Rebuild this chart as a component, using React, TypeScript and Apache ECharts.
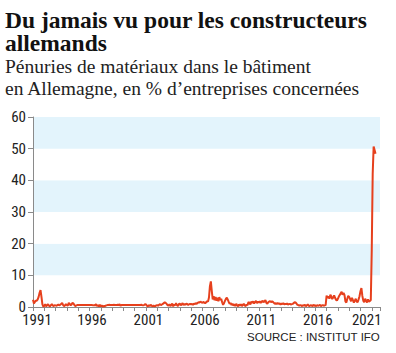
import { useEffect, useRef } from 'react';
import * as echarts from 'echarts';

const startYear = 1991;

// Monthly values (% of firms), Jan 1991 onwards
const shortage1991to2000 = [
  2.3, 1.1, 1.6, 2.0, 2.0, 2.4, 3.2, 4.5, 5.3, 3.2, 0.8, 0.1,
  0.4, 0.9, 0.2, 0.5, 0.9, 0.4, 0.2, 0.6, 0.9, 0.5, 0.3, 0.6,
  0.5, 0.4, 0.6, 0.8, 0.5, 0.7, 1.0, 1.3, 0.6, 0.3, 0.5, 0.9,
  0.6, 0.4, 1.3, 1.0, 0.5, 0.8, 1.3, 1.1, 0.6, 0.3, 0.5, 0.6,
  0.6, 0.6, 0.6, 0.6, 0.6, 0.6, 0.6, 0.6, 0.6, 0.6, 0.6, 0.6,
  0.6, 0.6, 0.6, 0.6, 0.5, 0.6, 0.5, 0.9, 0.3, 0.6, 0.2, 0.7,
  0.2, 0.5, 0.1, 0.3, 0.2, 0.4, 0.5, 0.6, 0.6, 0.7, 0.6, 0.6,
  0.6, 0.6, 0.7, 0.6, 0.6, 0.6, 0.7, 0.6, 0.9, 0.4, 0.6, 0.6,
  0.6, 0.6, 0.6, 0.6, 0.6, 0.6, 0.6, 0.6, 0.6, 0.6, 0.6, 0.6,
  0.6, 0.6, 0.6, 0.6, 0.6, 0.6, 0.6, 0.7, 0.6, 0.5, 0.6, 0.9,
];
const shortage2001to2010 = [
  0.8, 0.4, 0.2, 0.6, 0.3, 0.7, 0.4, 0.2, 0.5, 0.2, 0.3, 0.5,
  0.6, 0.4, 0.7, 0.9, 0.6, 0.8, 1.0, 1.2, 1.5, 1.3, 1.0, 0.6,
  0.4, 0.9, 0.3, 0.7, 1.1, 0.2, 0.8, 0.5, 1.2, 0.6, 0.3, 0.9,
  1.1, 0.5, 0.8, 1.2, 0.6, 1.0, 0.7, 1.1, 0.9, 0.6, 0.9, 1.0,
  0.8, 1.0, 0.7, 1.1, 0.9, 1.2, 1.0, 1.3, 1.5, 1.4, 1.7, 1.5,
  1.3, 1.6, 1.4, 1.2, 1.5, 1.8, 1.7, 3.0, 6.5, 8.1, 5.0, 2.4,
  3.4, 2.1, 3.2, 2.0, 2.9, 1.8, 3.1, 2.2, 2.6, 1.5, 0.7, 1.2,
  1.9, 2.6, 2.9, 2.3, 1.6, 1.0, 1.3, 0.6, 1.1, 0.4, 0.9, 0.3,
  1.0, 0.5, 0.2, 0.8, 0.4, 0.9, 0.3, 0.7, 1.0, 0.5, 0.3, 0.8,
  0.6, 1.6, 1.2, 0.8, 1.7, 1.3, 1.8, 1.1, 1.6, 1.9, 1.2, 1.7,
];
const shortage2011to2021 = [
  1.4, 1.8, 1.3, 1.6, 2.0, 1.5, 1.8, 2.2, 1.3, 1.0, 1.5, 1.7,
  1.9, 1.5, 1.8, 1.6, 1.3, 1.0, 1.2, 0.9, 1.3, 1.0, 1.1, 0.8,
  1.1, 0.9, 1.2, 0.8, 1.0, 0.9, 1.1, 0.8, 0.9, 1.0, 0.8, 0.9,
  1.0, 1.2, 1.5, 1.4, 1.1, 0.7, 0.6, 0.4, 0.6, 0.5, 0.3, 0.6,
  0.4, 0.7, 0.3, 0.5, 0.8, 0.4, 0.3, 0.6, 0.5, 0.3, 0.7, 0.4,
  0.5, 0.3, 0.6, 0.4, 0.5, 0.7, 0.3, 0.5, 0.6, 0.4, 0.5, 0.6,
  3.6, 2.8, 3.4, 2.6, 3.9, 3.3, 2.5, 3.0, 3.7, 2.9, 2.3, 2.0,
  2.6, 3.3, 3.8, 4.3, 4.8, 3.9, 4.4, 3.8, 1.8, 1.4, 2.6, 3.5,
  3.2, 2.5, 1.8, 2.9, 2.2, 1.4, 2.0, 2.6, 1.7, 1.5, 2.4, 3.4,
  5.0, 6.0, 3.5, 2.0, 1.5, 2.6, 2.0, 1.4, 2.4, 1.7, 1.9, 2.2,
  18.0, 42.0, 50.7, 49.6, 48.4,
];

const labelYears = [1991, 1996, 2001, 2006, 2011, 2016, 2021];
const yTickStep = 10;
const yMax = 60;

const titleLines = ['Du jamais vu pour les constructeurs', 'allemands'];
const subtitleLines = [
  'Pénuries de matériaux dans le bâtiment',
  'en Allemagne, en % d\u2019entreprises concernées',
];
const sourceText = 'SOURCE : INSTITUT IFO';

const narrow = '"Liberation Sans Narrow", "Arial Narrow", "Roboto Condensed", "Liberation Sans", sans-serif';
const sans = '"Liberation Sans", Arial, sans-serif';
const serif = '"Liberation Serif", "DejaVu Serif", serif';

export default function App() {
  const ref = useRef<HTMLDivElement>(null);
  useEffect(() => {
    if (!ref.current) return;
    const chart = echarts.init(ref.current, undefined, { renderer: 'svg' });
    const all = [...shortage1991to2000, ...shortage2001to2010, ...shortage2011to2021];
    const data = all.map((v, i) => [startYear + i / 12, v]);
    const labelStyle = { fontFamily: narrow, fontSize: 15, color: '#222' };
    chart.setOption({
      animation: false,
      backgroundColor: '#ffffff',
      title: [
        {
          text: titleLines.join('\n'),
          left: 0,
          top: 3,
          textStyle: { fontFamily: serif, fontWeight: 'bold', fontSize: 23.5, lineHeight: 23, color: '#111' },
        },
        {
          text: subtitleLines.join('\n'),
          left: 0,
          top: 50,
          textStyle: { fontFamily: serif, fontWeight: 'normal', fontSize: 19.5, lineHeight: 22, color: '#222' },
        },
      ],
      grid: { left: 33, right: 16, top: 117, bottom: 46 },
      xAxis: {
        type: 'value',
        min: 1991,
        max: 2021.73,
        interval: 1,
        axisLine: { show: true, lineStyle: { color: '#8a8a8a', width: 1 } },
        axisTick: { show: true, length: 4, lineStyle: { color: '#8a8a8a' } },
        splitLine: { show: false },
        axisLabel: {
          margin: 6,
          ...labelStyle,
          lineHeight: 14,
          formatter: (v: number) => {
            const y = Math.round(v);
            if (Math.abs(v - y) > 1e-6 || !labelYears.includes(y)) return '';
            if (y === labelYears[0]) return `{f|${y}}`;
            if (y === labelYears[labelYears.length - 1]) return `{l|${y}}`;
            return `{m|${y}}`;
          },
          rich: {
            f: { ...labelStyle, lineHeight: 14, padding: [0, 0, 0, 8] },
            m: { ...labelStyle, lineHeight: 14, padding: [0, 0, 0, 5] },
            l: { ...labelStyle, lineHeight: 14, padding: [0, 10, 0, 0] },
          },
        },
      },
      yAxis: {
        type: 'value',
        min: 0,
        max: yMax,
        interval: yTickStep,
        axisLine: { show: true, lineStyle: { color: '#8a8a8a', width: 1 } },
        axisTick: { show: true, length: 5, lineStyle: { color: '#8a8a8a' } },
        splitLine: { show: false },
        splitArea: { show: true, areaStyle: { color: ['#ffffff', '#e3f4fc'] } },
        axisLabel: { margin: 7, ...labelStyle, lineHeight: 12 },
      },
      series: [
        {
          type: 'line',
          data,
          symbol: 'none',
          showSymbol: false,
          lineStyle: { color: '#e6401d', width: 2 },
          z: 5,
        },
      ],
      graphic: [
        {
          type: 'text',
          right: 16,
          top: 331,
          style: { text: sourceText, fontFamily: sans, fontSize: 11.5, fill: '#222' },
        },
      ],
    });
    return () => chart.dispose();
  }, []);
  return <div ref={ref} style={{ position: 'fixed', left: 0, top: 0, width: 396, height: 353 }} />;
}
